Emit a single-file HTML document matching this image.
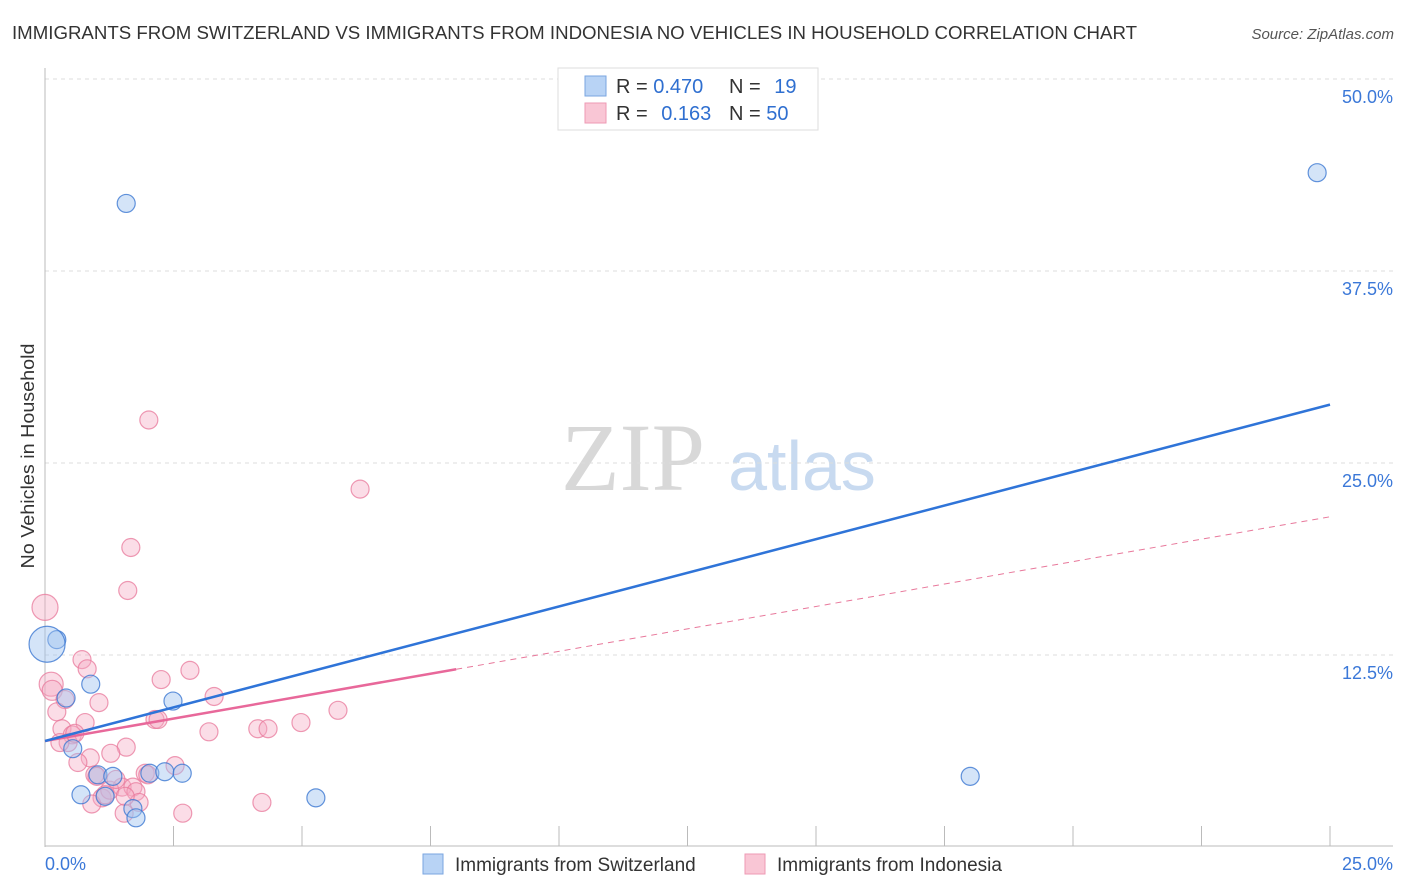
<!DOCTYPE html>
<html><head><meta charset="utf-8"><style>
body{margin:0;background:#fff;font-family:"Liberation Sans",sans-serif;}
svg{display:block}
</style></head><body>
<svg id="chart" width="1406" height="892">
<text x="12" y="39" font-size="18" fill="#333" textLength="1125" lengthAdjust="spacingAndGlyphs">IMMIGRANTS FROM SWITZERLAND VS IMMIGRANTS FROM INDONESIA NO VEHICLES IN HOUSEHOLD CORRELATION CHART</text>
<text x="1394" y="39" font-size="15" fill="#555" font-style="italic" text-anchor="end">Source: ZipAtlas.com</text>
<text x="34" y="456" font-size="18" fill="#333" text-anchor="middle" textLength="225" lengthAdjust="spacingAndGlyphs" transform="rotate(-90 34 456)">No Vehicles in Household</text>
<g><text x="633" y="490" font-size="96" fill="#d8d8d8" font-family="Liberation Serif,serif" text-anchor="middle">ZIP</text><text x="802" y="490" font-size="70" fill="#c8daf0" text-anchor="middle">atlas</text></g>
<g id="grid"></g><g id="marks"></g>
<g>
<rect x="558" y="68" width="260" height="62" fill="#fff" stroke="#ddd"/>
<rect x="585" y="76" width="21" height="20" fill="#b8d3f5" stroke="#7aa6e0"/>
<rect x="585" y="103" width="21" height="20" fill="#f9c6d5" stroke="#ee9ab4"/>
<text x="616" y="93" font-size="20" fill="#333">R = <tspan fill="#2f6fd0">0.470</tspan></text>
<text x="729" y="93" font-size="20" fill="#333">N = <tspan fill="#2f6fd0" dx="8">19</tspan></text>
<text x="616" y="120" font-size="20" fill="#333">R = <tspan fill="#2f6fd0" dx="8">0.163</tspan></text>
<text x="729" y="120" font-size="20" fill="#333">N = <tspan fill="#2f6fd0">50</tspan></text>
</g>
<g>
<rect x="423" y="854" width="20" height="20" fill="#b8d3f5" stroke="#7aa6e0"/>
<text x="455" y="871" font-size="19" fill="#333">Immigrants from Switzerland</text>
<rect x="745" y="854" width="20" height="20" fill="#f9c6d5" stroke="#ee9ab4"/>
<text x="777" y="871" font-size="19" fill="#333">Immigrants from Indonesia</text>
</g>
</svg>
<script>
const yTicks=[12.5,25,37.5,50];
const yTickLabels=["12.5%","25.0%","37.5%","50.0%"];
const xTickLabels=["0.0%","25.0%"];
const swissX=[1.58,24.75,0.23,0.04,0.89,0.41,2.49,0.54,1.03,1.32,2.04,2.33,2.67,0.70,1.17,1.71,1.77,5.27,18.0];
const swissY=[41.9,43.9,13.5,13.2,10.6,9.7,9.5,6.4,4.7,4.6,4.8,4.9,4.8,3.4,3.3,2.5,1.9,3.2,4.6];
const swissR=[9,9,9,18,9,9,9,9,9,9,9,9,9,9,9,9,9,9,9];
const indoX=[0.0,2.02,1.67,1.61,6.13,0.72,0.82,0.12,0.14,0.39,1.05,2.26,2.82,3.29,0.23,0.78,2.14,2.20,3.19,4.14,4.34,4.98,5.70,1.58,1.28,0.88,0.64,0.33,0.53,0.45,0.29,0.58,0.97,1.50,2.53,1.95,1.71,1.77,1.83,1.11,0.91,1.54,2.68,4.22,1.26,2.00,1.56,1.01,1.17,1.38];
const indoY=[15.6,27.8,19.5,16.7,23.3,12.2,11.6,10.6,10.2,9.6,9.4,10.9,11.5,9.8,8.8,8.1,8.3,8.3,7.5,7.7,7.7,8.1,8.9,6.5,6.1,5.8,5.5,7.7,7.3,6.8,6.8,7.4,4.7,3.9,5.3,4.8,3.9,3.6,2.9,3.2,2.8,2.2,2.2,2.9,3.7,4.7,3.3,4.6,3.4,4.4];
const indoR=[13,9,9,9,9,9,9,12,10,9,9,9,9,9,9,9,9,9,9,9,9,9,9,9,9,9,9,9,9,9,9,9,9,9,9,9,9,9,9,9,9,9,9,9,9,9,9,9,9,9];
const swissLine=[6.9,28.8];
const indoLine=[6.9,21.5];
const indoSolidEnd=[8.0];
const X=v=>45+v/25*1285, Y=v=>847-v/12.5*192;
const NS="http://www.w3.org/2000/svg";
function mk(t,a,p){const e=document.createElementNS(NS,t);for(const k in a)e.setAttribute(k,a[k]);p.appendChild(e);return e;}
const grid=document.getElementById('grid'), marks=document.getElementById('marks');
yTicks.forEach((t,i)=>{
 const l=mk('line',{x1:45,x2:1393,y1:Y(t),y2:Y(t),stroke:'#ddd','stroke-dasharray':'4,4'},grid);
 
 
 const tx=mk('text',{x:1393,y:Y(t)+24,'font-size':18,fill:'#3b78d8','text-anchor':'end'},grid);
 tx.textContent=yTickLabels[i];
 
 
});
const ax=mk('line',{x1:45,x2:45,y1:68,y2:847,stroke:'#bbb'},grid);


const bx=mk('line',{x1:45,x2:1393,y1:846,y2:846,stroke:'#bbb'},grid);


for(let k=1;k<=10;k++){const t=mk('line',{x1:X(k*2.5),x2:X(k*2.5),y1:826,y2:846,stroke:'#bbb'},grid);
 
 }
[[0,'start',45],[1,'end',1393]].forEach(([i,a,x])=>{const t=mk('text',{x:x,y:870,'font-size':18,fill:'#3b78d8','text-anchor':a},grid);t.textContent=xTickLabels[i];
 
 });
function pts(xs,ys,rs,fill,stroke,name){xs.forEach((x,i)=>{const c=mk('circle',{cx:X(x),cy:Y(ys[i]),r:rs[i],fill:fill,stroke:stroke,'stroke-width':1.2},marks);
 
 });}
pts(indoX,indoY,indoR,'rgba(246,170,195,0.4)','rgba(232,120,155,0.75)','indonesia-point');
pts(swissX,swissY,swissR,'rgba(160,195,240,0.45)','rgba(60,120,210,0.8)','switzerland-point');
const slope=(indoLine[1]-indoLine[0])/25;
const d=mk('line',{x1:X(indoSolidEnd[0]),y1:Y(indoLine[0]+slope*indoSolidEnd[0]),x2:X(25),y2:Y(indoLine[1]),stroke:'#e8789b','stroke-dasharray':'6,5','stroke-width':1},marks);


const p=mk('line',{x1:X(0),y1:Y(indoLine[0]),x2:X(indoSolidEnd[0]),y2:Y(indoLine[0]+slope*indoSolidEnd[0]),stroke:'#e8689a','stroke-width':2.5},marks);


const b=mk('line',{x1:X(0),y1:Y(swissLine[0]),x2:X(25),y2:Y(swissLine[1]),stroke:'#2f74d8','stroke-width':2.5},marks);


</script>
</body></html>
